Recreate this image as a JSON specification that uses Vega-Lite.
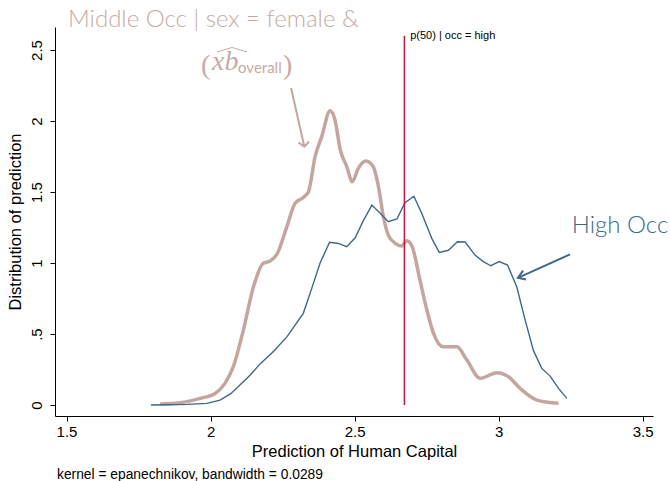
{
  "$schema": "https://vega.github.io/schema/vega-lite/v6.json",
  "width": 598,
  "height": 389,
  "autosize": {"type": "none"},
  "padding": {"left": 55, "top": 27, "right": 17, "bottom": 65},
  "background": "white",
  "title": {
    "text": "kernel = epanechnikov, bandwidth = 0.0289",
    "orient": "bottom",
    "anchor": "start",
    "frame": "group",
    "font": "Liberation Sans",
    "fontSize": 13.8,
    "fontWeight": "normal",
    "color": "black",
    "offset": 8,
    "dx": 2
  },
  "config": {
    "view": {"stroke": null},
    "axis": {
      "grid": false,
      "domainColor": "black",
      "tickColor": "black",
      "labelColor": "black",
      "titleColor": "black",
      "labelFont": "Liberation Sans",
      "titleFont": "Liberation Sans",
      "labelFontSize": 15,
      "titleFontSize": 16.5,
      "titleFontWeight": "normal",
      "tickSize": 5,
      "domainWidth": 1,
      "tickWidth": 1
    }
  },
  "datasets": {
    "high": [
      {"x": 1.793, "y": 0.0},
      {"x": 1.85, "y": 0.002},
      {"x": 1.92, "y": 0.005},
      {"x": 1.987, "y": 0.012},
      {"x": 2.033, "y": 0.035},
      {"x": 2.07, "y": 0.08},
      {"x": 2.102, "y": 0.141},
      {"x": 2.137, "y": 0.21},
      {"x": 2.172, "y": 0.29},
      {"x": 2.22, "y": 0.38},
      {"x": 2.265, "y": 0.48},
      {"x": 2.322, "y": 0.646},
      {"x": 2.351, "y": 0.82},
      {"x": 2.38, "y": 0.998},
      {"x": 2.413, "y": 1.146},
      {"x": 2.444, "y": 1.138},
      {"x": 2.473, "y": 1.115},
      {"x": 2.502, "y": 1.178},
      {"x": 2.531, "y": 1.3},
      {"x": 2.56, "y": 1.408},
      {"x": 2.589, "y": 1.35},
      {"x": 2.617, "y": 1.291},
      {"x": 2.647, "y": 1.31},
      {"x": 2.675, "y": 1.425},
      {"x": 2.706, "y": 1.47},
      {"x": 2.733, "y": 1.35},
      {"x": 2.768, "y": 1.174},
      {"x": 2.794, "y": 1.075},
      {"x": 2.826, "y": 1.09},
      {"x": 2.857, "y": 1.15},
      {"x": 2.884, "y": 1.148},
      {"x": 2.918, "y": 1.056},
      {"x": 2.947, "y": 1.01},
      {"x": 2.973, "y": 0.981},
      {"x": 3.002, "y": 1.01},
      {"x": 3.031, "y": 0.986},
      {"x": 3.063, "y": 0.833},
      {"x": 3.092, "y": 0.6},
      {"x": 3.121, "y": 0.383},
      {"x": 3.15, "y": 0.258},
      {"x": 3.179, "y": 0.204},
      {"x": 3.208, "y": 0.117},
      {"x": 3.237, "y": 0.047}
    ],
    "middle": [
      {"x": 1.825, "y": 0.007},
      {"x": 1.894, "y": 0.016},
      {"x": 1.964, "y": 0.047},
      {"x": 2.016, "y": 0.082},
      {"x": 2.05, "y": 0.153},
      {"x": 2.079, "y": 0.27},
      {"x": 2.114, "y": 0.528},
      {"x": 2.149, "y": 0.833},
      {"x": 2.183, "y": 0.998},
      {"x": 2.207, "y": 1.014},
      {"x": 2.23, "y": 1.061},
      {"x": 2.265, "y": 1.256},
      {"x": 2.293, "y": 1.42},
      {"x": 2.322, "y": 1.462},
      {"x": 2.34, "y": 1.502},
      {"x": 2.363, "y": 1.749},
      {"x": 2.386, "y": 1.89},
      {"x": 2.415, "y": 2.073},
      {"x": 2.432, "y": 2.007},
      {"x": 2.45, "y": 1.8},
      {"x": 2.473, "y": 1.678},
      {"x": 2.492, "y": 1.573},
      {"x": 2.513, "y": 1.667},
      {"x": 2.539, "y": 1.718},
      {"x": 2.565, "y": 1.678},
      {"x": 2.583, "y": 1.537},
      {"x": 2.6, "y": 1.326},
      {"x": 2.617, "y": 1.197},
      {"x": 2.641, "y": 1.139},
      {"x": 2.664, "y": 1.12},
      {"x": 2.681, "y": 1.157},
      {"x": 2.699, "y": 1.12},
      {"x": 2.727, "y": 0.88},
      {"x": 2.751, "y": 0.669},
      {"x": 2.774, "y": 0.505},
      {"x": 2.808, "y": 0.41},
      {"x": 2.855, "y": 0.41},
      {"x": 2.89, "y": 0.317},
      {"x": 2.936, "y": 0.188},
      {"x": 2.994, "y": 0.228},
      {"x": 3.034, "y": 0.2},
      {"x": 3.075, "y": 0.117},
      {"x": 3.133, "y": 0.035},
      {"x": 3.208, "y": 0.012}
    ],
    "pinkArrow": [
      {"seg": "shaft", "o": 1, "x": 2.2795, "y": 2.232},
      {"seg": "shaft", "o": 2, "x": 2.3257, "y": 1.819},
      {"seg": "head", "o": 1, "x": 2.3056, "y": 1.849},
      {"seg": "head", "o": 2, "x": 2.3257, "y": 1.819},
      {"seg": "head", "o": 3, "x": 2.342, "y": 1.856}
    ],
    "blueArrow": [
      {"seg": "shaft", "o": 1, "x": 3.248, "y": 1.061},
      {"seg": "shaft", "o": 2, "x": 3.067, "y": 0.896},
      {"seg": "head", "o": 1, "x": 3.085, "y": 0.947},
      {"seg": "head", "o": 2, "x": 3.067, "y": 0.896},
      {"seg": "head", "o": 3, "x": 3.0955, "y": 0.884}
    ]
  },
  "encoding": {
    "x": {
      "field": "x",
      "type": "quantitative",
      "scale": {"domain": [1.46, 3.536], "nice": false, "zero": false},
      "axis": {
        "title": "Prediction of Human Capital",
        "values": [1.5, 2, 2.5, 3, 3.5],
        "labelExpr": "format(datum.value, '~g')",
        "labelPadding": 3,
        "titlePadding": 4
      }
    },
    "y": {
      "field": "y",
      "type": "quantitative",
      "scale": {"domain": [-0.077, 2.662], "nice": false, "zero": false},
      "axis": {
        "title": "Distribution of prediction",
        "values": [0, 0.5, 1, 1.5, 2, 2.5],
        "labelExpr": "datum.value == 0.5 ? '.5' : format(datum.value, '~g')",
        "labelAngle": 270,
        "labelAlign": "center",
        "labelBaseline": "bottom",
        "labelPadding": 6,
        "titlePadding": 6
      }
    }
  },
  "layer": [
    {
      "data": {"name": "middle"},
      "mark": {"type": "line", "color": "#c4a69f", "strokeWidth": 3.5, "interpolate": "monotone"}
    },
    {
      "data": {"name": "high"},
      "mark": {"type": "line", "color": "#3e6888", "strokeWidth": 1.4}
    },
    {
      "data": {"values": [{"x": 2.673, "y": 0, "y2": 2.6}]},
      "mark": {"type": "rule", "color": "#d4103c", "strokeWidth": 1.5},
      "encoding": {"y2": {"field": "y2"}}
    },
    {
      "data": {"values": [{"x": 2.693, "y": 2.599, "t": "p(50) | occ = high"}]},
      "mark": {"type": "text", "align": "left", "baseline": "middle", "font": "Liberation Sans", "fontSize": 11, "color": "black"},
      "encoding": {"text": {"field": "t"}}
    },
    {
      "data": {"name": "pinkArrow"},
      "mark": {"type": "line", "strokeWidth": 2, "color": "#c4a69f"},
      "encoding": {"detail": {"field": "seg"}, "order": {"field": "o"}}
    },
    {
      "data": {"name": "blueArrow"},
      "mark": {"type": "line", "strokeWidth": 2, "color": "#3e6888"},
      "encoding": {"detail": {"field": "seg"}, "order": {"field": "o"}}
    },
    {
      "data": {"values": [{"x": 1.505, "y": 2.662, "t": "Middle Occ | sex = female &"}]},
      "mark": {"type": "text", "align": "left", "baseline": "alphabetic", "font": "Lato", "fontSize": 24, "fontWeight": 300, "color": "#c8aaa4"},
      "encoding": {"text": {"field": "t"}}
    },
    {
      "data": {"values": [{"x": 3.254, "y": 1.211, "t": "High Occ"}]},
      "mark": {"type": "text", "align": "left", "baseline": "alphabetic", "font": "Lato", "fontSize": 24, "fontWeight": 300, "color": "#3e6888"},
      "encoding": {"text": {"field": "t"}}
    },
    {
      "data": {"values": [
        {"x": 1.967, "y": 2.331, "t": "("},
        {"x": 2.2517, "y": 2.331, "t": ")"}
      ]},
      "mark": {"type": "text", "align": "left", "baseline": "alphabetic", "font": "Liberation Serif", "fontSize": 28, "color": "#c8aaa4"},
      "encoding": {"text": {"field": "t"}}
    },
    {
      "data": {"values": [{"x": 2.0052, "y": 2.359, "t": "xb"}]},
      "mark": {"type": "text", "align": "left", "baseline": "alphabetic", "font": "Liberation Serif", "fontStyle": "italic", "fontSize": 28, "color": "#c8aaa4"},
      "encoding": {"text": {"field": "t"}}
    },
    {
      "data": {"values": [{"x": 2.0955, "y": 2.338, "t": "overall"}]},
      "mark": {"type": "text", "align": "left", "baseline": "alphabetic", "font": "Lato", "fontSize": 15, "color": "#c8aaa4"},
      "encoding": {"text": {"field": "t"}}
    },
    {
      "data": {"values": [
        {"x": 2.0226, "y": 2.486, "o": 1},
        {"x": 2.0747, "y": 2.518, "o": 2},
        {"x": 2.1267, "y": 2.486, "o": 3}
      ]},
      "mark": {"type": "line", "color": "#c8aaa4", "strokeWidth": 1},
      "encoding": {"order": {"field": "o"}}
    }
  ]
}
